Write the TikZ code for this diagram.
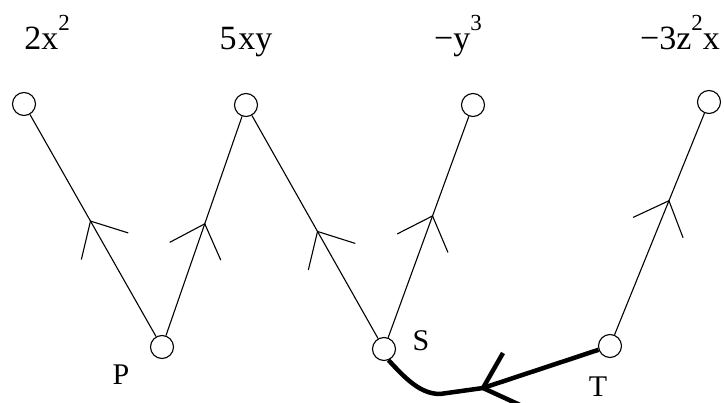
\documentclass[tikz,border=0pt]{standalone}
\usepackage{fontspec}
\setmainfont{Liberation Serif}
\usetikzlibrary{decorations.markings}
\newcommand\mysup[1]{\raisebox{19pt}{\fontsize{23}{23}\selectfont #1}}
\begin{document}
\begin{tikzpicture}[x=1pt,y=-1pt,
  vert/.style={circle,draw,line width=1.1pt,minimum size=23pt,inner sep=0pt},
  edge/.style={line width=1.1pt},
  heavy/.style={line width=4.5pt,line join=round},
  lbl/.style={font=\fontsize{30}{30}\selectfont,inner sep=0pt},
  term/.style={font=\fontsize{34}{34}\selectfont,inner sep=0pt,anchor=base},
  midarrow/.style={postaction={decorate},decoration={markings,mark=at position #1 with {\draw[edge] (-29pt,27pt) -- (0,0) -- (-29pt,-27pt);}}}
]
\useasboundingbox (0,0) rectangle (724,403);
\clip (0,0) rectangle (724,403);
% top vertices
\node[vert] (a1) at (24,104) {};
\node[vert] (a2) at (246,105) {};
\node[vert] (a3) at (473,105) {};
\node[vert] (a4) at (709,102) {};
% bottom vertices
\node[vert] (P) at (162,347) {};
\node[vert] (S) at (384,349) {};
\node[vert] (T) at (610,346) {};
% thin edges with mid arrows
\draw[edge,midarrow=0.52] (P) -- (a1);
\draw[edge,midarrow=0.51] (P) -- (a2);
\draw[edge,midarrow=0.48] (S) -- (a2);
\draw[edge,midarrow=0.55] (S) -- (a3);
\draw[edge,midarrow=0.605] (T) -- (a4);
% thick path
\coordinate (x) at (483,388);
\coordinate (bend) at (440,394);
\coordinate (b1) at (503,353);
\coordinate (b2) at (520,405);
\draw[heavy] (T) -- (x) -- (bend) .. controls (420,394) and (405,378) .. (S.-68);
\draw[heavy] (b1) -- (x) -- (b2);
% terms
\node[term] (t1) at (47,50) {2x\mysup{2}};
\node[term] (t2) at (246,50) {5\kern2pt xy};
\node[term] (t3) at (458,50) {−y\mysup{3}};
\node[term] (t4) at (680,50) {−3z\mysup{2}x};
% labels
\node[lbl] (lp) at (121,375) {P};
\node[lbl] (ls) at (421,341) {S};
\node[lbl] (lt) at (598,387) {T};
\end{tikzpicture}
\end{document}
